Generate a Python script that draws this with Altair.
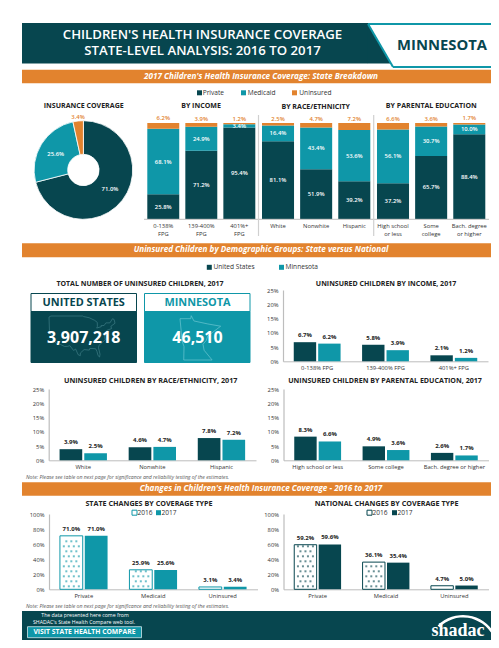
import altair as alt
import pandas as pd

# ---------- values ----------
COVER_TYPES = ["Private", "Medicaid", "Uninsured"]
COVER_VALUES = [71.0, 25.6, 3.4]

INCOME_CATS = ["0-138%\nFPG", "139-400%\nFPG", "401%+\nFPG"]
INCOME_PRIVATE = [25.8, 71.2, 95.4]
INCOME_MEDICAID = [68.1, 24.9, 3.4]
INCOME_UNINS = [6.2, 3.9, 1.2]

RACE_CATS = ["White", "Nonwhite", "Hispanic"]
RACE_PRIVATE = [81.1, 51.9, 39.2]
RACE_MEDICAID = [16.4, 43.4, 53.6]
RACE_UNINS = [2.5, 4.7, 7.2]

EDU_CATS = ["High school\nor less", "Some\ncollege", "Bach. degree\nor higher"]
EDU_PRIVATE = [37.2, 65.7, 88.4]
EDU_MEDICAID = [56.1, 30.7, 10.0]
EDU_UNINS = [6.6, 3.6, 1.7]

UNINS_INCOME_CATS = ["0-138% FPG", "139-400% FPG", "401%+ FPG"]
UNINS_INCOME_US = [6.7, 5.8, 2.1]
UNINS_INCOME_MN = [6.2, 3.9, 1.2]
UNINS_RACE_US = [3.9, 4.6, 7.8]
UNINS_RACE_MN = [2.5, 4.7, 7.2]
UNINS_EDU_CATS = ["High school or less", "Some college", "Bach. degree or higher"]
UNINS_EDU_US = [8.3, 4.9, 2.6]
UNINS_EDU_MN = [6.6, 3.6, 1.7]

STATE_2016 = [71.0, 25.9, 3.1]
STATE_2017 = [71.0, 25.6, 3.4]
NATION_2016 = [59.2, 36.1, 4.7]
NATION_2017 = [59.6, 35.4, 5.0]

US_LON = [-124.7, -123, -95.2, -94.6, -89.6, -84.8, -82.5, -82.4, -83, -79, -79.2, -76.5, -75, -71.5, -69.2, -67.8, -67,
          -70.6, -70, -74, -75.5, -76, -75.5, -81, -81.4, -80.1, -80.5, -81.8, -82.8, -84, -89, -89.5, -94, -97.3, -97.3,
          -99.2, -101.4, -103.2, -106.5, -108.2, -111, -114.8, -117.1, -120.5, -122.5, -124.3, -124.7]
US_LAT = [48.4, 49, 49, 48.7, 48, 46.5, 45.3, 43, 42, 42.8, 43.4, 43.5, 45, 45, 47.4, 47, 44.8,
          43, 41.7, 40.7, 38, 36.9, 35.2, 32, 30.5, 26.8, 25.2, 26, 28.5, 30, 30.2, 29.2, 29.5, 27.5, 26,
          26.5, 29.8, 29, 31.8, 31.4, 31.3, 32.5, 32.5, 34.5, 37.5, 40.4, 48.4]
MN_LON = [-97.2, -95.2, -95.1, -94.6, -92, -89.6, -92, -92.3, -92.9, -92.7, -91.2, -96.5, -96.45, -96.8, -97.2]
MN_LAT = [49, 49, 49.4, 48.7, 48.3, 48, 46.7, 46.1, 45.6, 44.8, 43.5, 43.5, 45.3, 46, 49]

# ---------- style ----------
DARK = "#07464f"
TEAL = "#0f97a8"
ORANGE = "#e2832e"
INK = "#222222"
GREY = "#bdbdbd"
FONT = "Open Sans"
W, H = 483, 632
ONE = alt.Data(values=[{"a": 1}])


def fx(v):
    return v - 8


def fy(v):
    return v - 8


def box(x0, y0, x1, y1, fill, stroke=None, sw=1):
    kw = dict(fill=fill)
    if stroke:
        kw.update(stroke=stroke, strokeWidth=sw)
    return alt.Chart(ONE).mark_rect(**kw).encode(
        x=alt.value(fx(x0)), x2=alt.value(fx(x1)), y=alt.value(fy(y0)), y2=alt.value(fy(y1)))


def line(x0, y0, x1, y1, color, sw=1):
    return alt.Chart(ONE).mark_rule(color=color, strokeWidth=sw).encode(
        x=alt.value(fx(x0)), x2=alt.value(fx(x1)), y=alt.value(fy(y0)), y2=alt.value(fy(y1)))


def txt(s, x, y, size, color=INK, weight="normal", align="center", style="normal", font=FONT):
    return alt.Chart(ONE).mark_text(text=s, fontSize=size, color=color, fontWeight=weight, align=align,
                                    fontStyle=style, font=font, baseline="middle").encode(
        x=alt.value(fx(x)), y=alt.value(fy(y)))


def banner(y0, y1, s):
    return [box(22, y0, 491, y1, ORANGE),
            txt(s, 261, (y0 + y1) / 2, 8.15, "white", "bold", style="italic")]


def legend(items, y):
    out = []
    for s, sx, tx, c, hollow in items:
        out.append(box(sx, y - 2.5, sx + 5, y + 2.5, "white" if hollow else c, c if hollow else None, 1))
        out.append(txt(s, tx, y, 6.6, "#333333", align="left"))
    return out


def stacked(cats, priv, med, unins, x0, x1):
    rows = []
    for i, c in enumerate(cats):
        base = 0.0
        for j, (t, v) in enumerate(zip(COVER_TYPES, (priv[i], med[i], unins[i]))):
            rows.append(dict(cat=c, kind=t, v0=base, v1=base + v, mid=base + v / 2, label=f"{v:.1f}%"))
            base += v
    df = pd.DataFrame(rows)
    x = alt.X("cat:N", sort=cats, title=None,
              scale=alt.Scale(domain=cats, range=[fx(x0), fx(x1)], paddingInner=0.16, paddingOuter=0),
              axis=alt.Axis(orient="bottom", offset=-(H - fy(219)), domain=False, ticks=False, labelAngle=0,
                            labelFont=FONT, labelFontSize=5.8, labelColor="#333333", labelPadding=3,
                            labelLineHeight=8, labelExpr="split(datum.label, '\\n')"))
    y = alt.Y("v0:Q", title=None, axis=None, scale=alt.Scale(domain=[0, 100], range=[fy(219), fy(123)], nice=False))
    bars = alt.Chart(df).mark_bar().encode(
        x=x, y=y, y2="v1:Q",
        color=alt.Color("kind:N", legend=None,
                        scale=alt.Scale(domain=COVER_TYPES, range=[DARK, TEAL, ORANGE])))
    inner = alt.Chart(df[df.kind != "Uninsured"]).mark_text(
        color="white", fontSize=5.9, fontWeight=600, font=FONT, baseline="middle").encode(
        x=x, y=alt.Y("mid:Q"), text="label:N")
    top = alt.Chart(df[df.kind == "Uninsured"]).mark_text(
        color=ORANGE, fontSize=5.9, fontWeight=600, font=FONT, baseline="middle", dy=-4.5).encode(
        x=x, y=alt.Y("v1:Q"), text="label:N")
    return alt.layer(bars, inner, top)


def grouped(cats, a, b, names, x0, x1, y0, y1, ymax, ticks, color_a, color_b, hatched=False, label_size=6):
    rows = []
    for i, c in enumerate(cats):
        rows.append(dict(cat=c, series=names[0], v=a[i], label=f"{a[i]:.1f}%"))
        rows.append(dict(cat=c, series=names[1], v=b[i], label=f"{b[i]:.1f}%"))
    df = pd.DataFrame(rows)
    pad_in, pad_out = 0.083, 0.44
    x = alt.X("cat:N", sort=cats, title=None,
              scale=alt.Scale(domain=cats, range=[fx(x0), fx(x1)], paddingInner=0, paddingOuter=0),
              axis=alt.Axis(orient="bottom", offset=-(H - fy(y1)), domainColor=GREY, domainWidth=1, ticks=False,
                            labelAngle=0, labelFont=FONT, labelFontSize=5.8, labelColor="#333333", labelPadding=3))
    xo = alt.XOffset("series:N", sort=names,
                     scale=alt.Scale(domain=names, paddingInner=pad_in, paddingOuter=pad_out))
    y_scale = alt.Scale(domain=[0, ymax], range=[fy(y1), fy(y0)], nice=False)
    y = alt.Y("v:Q", title=None, scale=y_scale,
              axis=alt.Axis(orient="left", offset=-fx(x0), values=ticks, labelExpr="datum.value + '%'",
                            domainColor=GREY, domainWidth=1.2, ticks=False, grid=False, labelFont=FONT,
                            labelFontSize=5.8, labelColor="#333333", labelPadding=5))
    layers = []
    out = []
    if hatched:
        first = alt.Chart(df[df.series == names[0]]).mark_bar(fill="white", stroke=color_a, strokeWidth=1)
        second = alt.Chart(df[df.series == names[1]]).mark_bar(fill=color_b)
        layers += [first.encode(x=x, xOffset=xo, y=y), second.encode(x=x, xOffset=xo, y=y)]
        # dotted fill of the first series: staggered rows of dots inside each of its bars
        group_w = (x1 - x0) / len(cats)
        centre = (pad_out + (1 - pad_in) / 2) / (2 - pad_in + 2 * pad_out)
        per_px = ymax / (y1 - y0)
        d = []
        for i in range(len(cats)):
            lvl = 3 * per_px
            k = 0
            while lvl < a[i] - per_px:
                for dx in ((-7.5, -2.5, 2.5, 7.5) if k % 2 == 0 else (-5, 0, 5)):
                    d.append(dict(pos=i + centre + dx / group_w, v=lvl))
                lvl += 5 * per_px
                k += 1
        out.append(alt.Chart(pd.DataFrame(d, columns=["pos", "v"])).mark_point(
            filled=True, shape="square", size=4, color=color_a, opacity=0.6).encode(
            x=alt.X("pos:Q", axis=None, title=None,
                    scale=alt.Scale(domain=[0, len(cats)], range=[fx(x0), fx(x1)], nice=False, zero=False)),
            y=alt.Y("v:Q", axis=None, title=None, scale=y_scale)))
    else:
        layers.append(alt.Chart(df).mark_bar().encode(
            x=x, xOffset=xo, y=y,
            color=alt.Color("series:N", legend=None, sort=names,
                            scale=alt.Scale(domain=names, range=[color_a, color_b]))))
    layers.append(alt.Chart(df).mark_text(color=INK, fontSize=label_size, fontWeight="bold", font=FONT,
                                          baseline="middle", dy=-7).encode(x=x, xOffset=xo, y=y, text="label:N"))
    return [alt.layer(*layers)] + out


def outline(lon, lat, xr, yr, color):
    df = pd.DataFrame(dict(lon=lon, lat=lat, i=range(len(lon))))
    return alt.Chart(df).mark_line(color=color, strokeWidth=0.7).encode(
        x=alt.X("lon:Q", axis=None, scale=alt.Scale(domain=[min(lon), max(lon)], range=[fx(xr[0]), fx(xr[1])], nice=False, zero=False)),
        y=alt.Y("lat:Q", axis=None, scale=alt.Scale(domain=[min(lat), max(lat)], range=[fy(yr[0]), fy(yr[1])], nice=False, zero=False)),
        order="i:Q")


layers = []

# --- header ---
layers.append(box(22, 23, 368, 63.5, DARK))
layers.append(alt.Chart(ONE).mark_point(shape="M -0.575 -1 L 0.575 1 L -0.575 1 Z", filled=True, size=1640,
                                        color=DARK, opacity=1)
              .encode(x=alt.value(fx(379.5)), y=alt.value(fy(43.2))))
layers.append(line(368, 24, 491, 24, TEAL, 2))
layers.append(line(368, 24, 393, 67, TEAL, 2))
layers.append(line(393, 67, 491, 67, TEAL, 2))
layers.append(txt("CHILDREN'S HEALTH INSURANCE COVERAGE", 202.5, 35.4, 13.2, "white", 600))
layers.append(txt("STATE-LEVEL ANALYSIS: 2016 TO 2017", 202.5, 51.2, 13.2, "white", 600))
layers.append(txt("MINNESOTA", 442, 46, 14.8, DARK, "bold"))

# --- section 1 ---
layers += banner(69.7, 83.3, "2017 Children's Health Insurance Coverage: State Breakdown")
layers += legend([("Private", 197, 202.7, DARK, False), ("Medicaid", 241, 247.7, TEAL, False),
                  ("Uninsured", 292, 299.3, ORANGE, False)], 92.8)
for s, x, y in [("INSURANCE COVERAGE", 83.7, 106), ("BY INCOME", 201, 106),
                ("BY RACE/ETHNICITY", 315.7, 107), ("BY PARENTAL EDUCATION", 431.3, 106.3)]:
    layers.append(txt(s, x, y, 7.05, INK, "bold"))

pie = pd.DataFrame(dict(kind=COVER_TYPES, v=COVER_VALUES, i=[0, 1, 2]))
pie_theta = alt.Theta("v:Q", stack=True, scale=alt.Scale(domain=[0, 100], range=[0, 6.28318]))
layers.append(alt.Chart(pie).mark_arc(radius=49.3, radius2=15.7, stroke="white", strokeWidth=0.8).encode(
    x=alt.value(fx(83.4)), y=alt.value(fy(170)), theta=pie_theta, order="i:Q",
    color=alt.Color("kind:N", legend=None, scale=alt.Scale(domain=COVER_TYPES, range=[DARK, TEAL, ORANGE]))))
layers.append(txt("71.0%", 110, 189.3, 5.9, "white", 600))
layers.append(txt("25.6%", 55.7, 153.7, 5.9, "white", 600))
layers.append(txt("3.4%", 78, 116.7, 5.9, ORANGE, 600))

layers.append(stacked(INCOME_CATS, INCOME_PRIVATE, INCOME_MEDICAID, INCOME_UNINS, 147.3, 255.3))
layers.append(stacked(RACE_CATS, RACE_PRIVATE, RACE_MEDICAID, RACE_UNINS, 262, 370.3))
layers.append(stacked(EDU_CATS, EDU_PRIVATE, EDU_MEDICAID, EDU_UNINS, 377, 485.3))
layers.append(line(144, 219.3, 489, 219.3, GREY, 1))
layers.append(line(258.5, 115, 258.5, 236, "#d0d0d0", 1.2))
layers.append(line(373.7, 115, 373.7, 236, "#d0d0d0", 1.2))

# --- section 2 ---
layers += banner(243.3, 257.3, "Uninsured Children by Demographic Groups: State versus National")
layers += legend([("United States", 206.8, 213.5, DARK, False), ("Minnesota", 279, 285.5, TEAL, False)], 267.3)
layers.append(txt("TOTAL NUMBER OF UNINSURED CHILDREN, 2017", 140, 284.3, 7, INK, "bold"))
layers.append(box(31, 293.5, 136.5, 311.5, "white", DARK, 1))
layers.append(box(31, 311.5, 136.5, 362.5, DARK, DARK, 1))
layers.append(txt("UNITED STATES", 83.7, 303, 10.9, DARK, "bold"))
layers.append(outline(US_LON, US_LAT, (49, 115), (357, 316), "#3d7c85"))
layers.append(txt("3,907,218", 83.7, 337.7, 16, "white", "bold"))
layers.append(box(144.5, 293.5, 250, 311.5, "white", TEAL, 1))
layers.append(box(144.5, 311.5, 250, 362.5, TEAL, TEAL, 1))
layers.append(txt("MINNESOTA", 197.5, 303, 10.9, TEAL, "bold"))
layers.append(outline(MN_LON, MN_LAT, (180, 220.7), (360, 315.7), "#6cc6d1"))
layers.append(txt("46,510", 197.5, 337.7, 16, "white", "bold"))

T25 = [0, 5, 10, 15, 20, 25]
layers.append(txt("UNINSURED CHILDREN BY INCOME, 2017", 386, 284.3, 7, INK, "bold"))
layers += grouped(UNINS_INCOME_CATS, UNINS_INCOME_US, UNINS_INCOME_MN, ["United States", "Minnesota"],
                  283, 488, 290, 361.3, 25, T25, DARK, TEAL)
layers.append(txt("UNINSURED CHILDREN BY RACE/ETHNICITY, 2017", 150.7, 380.7, 7.2, INK, "bold"))
layers += grouped(RACE_CATS, UNINS_RACE_US, UNINS_RACE_MN, ["United States", "Minnesota"],
                  48.7, 256, 389, 460.3, 25, T25, DARK, TEAL)
layers.append(txt("UNINSURED CHILDREN BY PARENTAL EDUCATION, 2017", 385, 380.7, 7.1, INK, "bold"))
layers += grouped(UNINS_EDU_CATS, UNINS_EDU_US, UNINS_EDU_MN, ["United States", "Minnesota"],
                  283.5, 488.5, 389, 460.3, 25, T25, DARK, TEAL)
NOTE = "Note: Please see table on next page for significance and reliability testing of the estimates."
layers.append(txt(NOTE, 26, 476.7, 5.15, "#555555", align="left", style="italic"))

# --- section 3 ---
layers += banner(482.3, 495.7, "Changes in Children's Health Insurance Coverage - 2016 to 2017")
T100 = [0, 20, 40, 60, 80, 100]
layers.append(txt("STATE CHANGES BY COVERAGE TYPE", 149, 503.7, 7.2, INK, "bold"))
layers += legend([("2016", 132, 137.5, TEAL, True), ("2017", 156, 161.5, TEAL, False)], 512.7)
layers += grouped(COVER_TYPES, STATE_2016, STATE_2017, ["2016", "2017"],
                  49, 257.5, 514, 589.3, 100, T100, TEAL, TEAL, hatched=True)
layers.append(txt("NATIONAL CHANGES BY COVERAGE TYPE", 386.7, 503.7, 7.2, INK, "bold"))
layers += legend([("2016", 367, 372.5, DARK, True), ("2017", 392, 397.5, DARK, False)], 512.7)
layers += grouped(COVER_TYPES, NATION_2016, NATION_2017, ["2016", "2017"],
                  283.5, 488.5, 514, 589.3, 100, T100, DARK, DARK, hatched=True)
layers.append(txt(NOTE, 26, 606, 5.15, "#555555", align="left", style="italic"))

# --- footer ---
layers.append(box(22, 611, 491, 640, DARK))
layers.append(txt("The data presented here come from", 85, 615.4, 5.2, "white"))
layers.append(txt("SHADAC's State Health Compare web tool.", 84, 622.3, 5.2, "white"))
layers.append(box(27.5, 626.7, 141.5, 637.7, TEAL, "#cfe6ea", 0.8))
layers.append(txt("VISIT STATE HEALTH COMPARE", 84.5, 632.2, 6.8, "white", "bold"))
layers.append(txt("shadac", 458, 630.5, 18, "white", "bold", font="Liberation Sans Narrow"))
layers.append(alt.Chart(ONE).mark_arc(fill="white", radius=36, radius2=33.5, theta=5.5, theta2=7.36).encode(
    x=alt.value(fx(463)), y=alt.value(fy(651))))

chart = alt.layer(*layers).resolve_scale(
    x="independent", y="independent", color="independent", xOffset="independent"
).properties(
    width=W, height=H, padding=0, autosize=alt.AutoSizeParams(type="none")
).configure_view(stroke=None)

chart.save("out.html", embed_options={"renderer": "svg", "actions": False})
